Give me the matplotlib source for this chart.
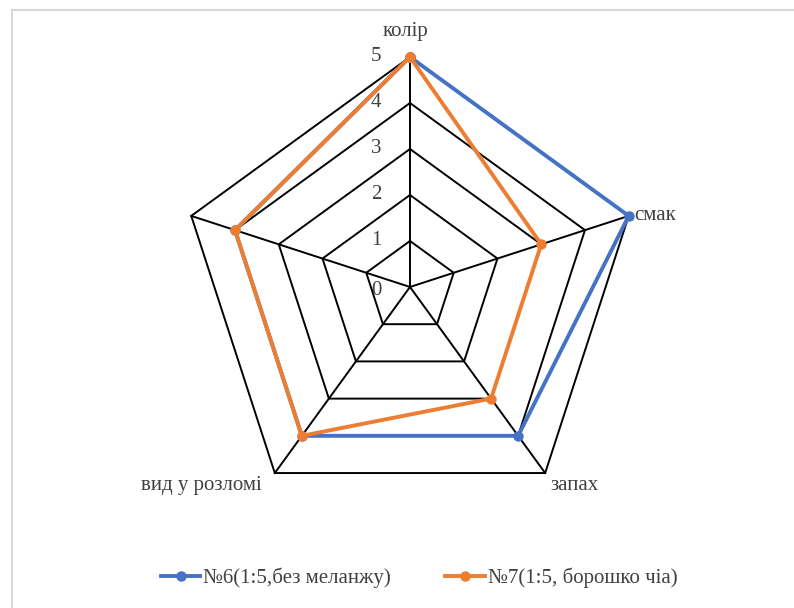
import numpy as np
import matplotlib.pyplot as plt
from matplotlib.lines import Line2D

categories = ["колір", "смак", "запах", "вид у розломі", ""]
series_names = ["№6(1:5,без меланжу)", "№7(1:5, борошко чіа)"]
sample6 = [5, 5, 4, 4, 4]
sample7 = [5, 3, 3, 4, 4]
ticks = [0, 1, 2, 3, 4, 5]

colors = ["#4472C4", "#ED7D31"]

plt.rcParams['font.family'] = ['Liberation Serif', 'DejaVu Serif']

fig = plt.figure(figsize=(7.94, 6.08), dpi=100)

# light frame lines at top and left
fig.add_artist(Line2D([12 / 794, 1], [1 - 10 / 608, 1 - 10 / 608], color="#d9d9d9", lw=1.5))
fig.add_artist(Line2D([12 / 794, 12 / 794], [0, 1 - 10 / 608], color="#d9d9d9", lw=1.5))

ax = fig.add_axes([0.2267, 0.1497, 0.5793, 0.7566], projection="polar")
ax.set_theta_offset(np.pi / 2)
ax.set_theta_direction(-1)
ax.set_ylim(0, 5)
ax.grid(False)
ax.spines["polar"].set_visible(False)
ax.set_xticks([])
ax.set_yticks([])
ax.patch.set_alpha(0)

n = len(categories)
theta = np.linspace(0, 2 * np.pi, n, endpoint=False)
theta_c = np.append(theta, theta[0])

# grid rings and spokes
for k in ticks[1:]:
    ax.plot(theta_c, [k] * (n + 1), color="black", lw=1.4, clip_on=False, zorder=1)
for t in theta:
    ax.plot([t, t], [0, 5], color="black", lw=1.4, clip_on=False, zorder=1)

for vals, c, name in zip([sample6, sample7], colors, series_names):
    v = np.append(vals, vals[0])
    ax.plot(theta_c, v, color=c, lw=2.8, marker="o", markersize=6.5,
            label=name, clip_on=False, zorder=3)

for k in ticks:
    ax.annotate(str(k), xy=(0, k), xytext=(-34, -4 if k == 0 else 0),
                textcoords="offset pixels", ha="center", va="center",
                fontsize=15, color="#404040")

offsets = [(-4, 25, "center"), (6, 0, "left"), (5, -12, "left"),
           (-13, -12, "right"), (0, 0, "center")]
for t, lab, (dx, dy, ha) in zip(theta, categories, offsets):
    ax.annotate(lab, xy=(t, 5), xytext=(dx, dy), textcoords="offset pixels",
                ha=ha, va="center", fontsize=15, color="#404040")

fig.legend(loc="center", bbox_to_anchor=(0.528, 0.05), ncol=2, frameon=False,
           fontsize=15, handlelength=1.9, columnspacing=2.6, handletextpad=0.15,
           labelcolor="#404040")

fig.savefig("out.png", dpi=100)
